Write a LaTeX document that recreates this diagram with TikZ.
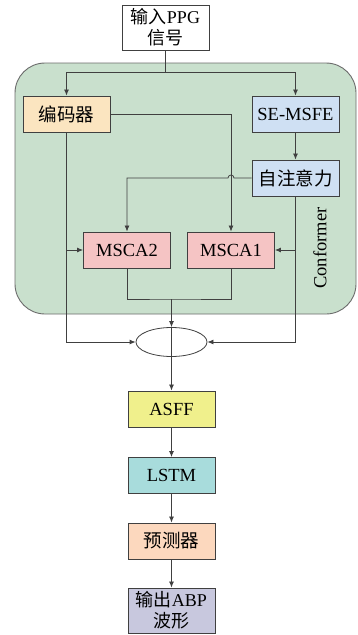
\documentclass[tikz,border=0pt]{standalone}
\usepackage{fontspec}
\setmainfont{Liberation Serif}
\newfontfamily\cjk{Noto Sans CJK SC}
\usepackage{tikz}
\usetikzlibrary{shapes,arrows,arrows.meta}
\usetikzlibrary{calc}
\usetikzlibrary{positioning}

\definecolor{convgreen}{HTML}{C9E0CD}
\definecolor{encfill}{HTML}{FBE5C0}
\definecolor{bluefill}{HTML}{CFE0F3}
\definecolor{mscafill}{HTML}{F5C4C4}
\definecolor{asfffill}{HTML}{F0F08C}
\definecolor{lstmfill}{HTML}{A8DCDC}
\definecolor{predfill}{HTML}{FCD8BE}
\definecolor{outfill}{HTML}{C8C8DE}
\definecolor{edgegray}{HTML}{404040}

\begin{document}
\begin{tikzpicture}[x=1pt, y=-1pt, >={Latex[length=6pt,width=5pt]},
	block_node/.style={rectangle, draw=edgegray, line width=0.9pt, minimum width=87pt, minimum height=36pt, inner sep=1pt, align=center, font=\fontsize{18.5}{20}\selectfont},
	line_arrow/.style={draw=edgegray, line width=0.8pt}]
				\useasboundingbox (0,0) rectangle (358,635);
				% Conformer block behind everything
				\filldraw[fill=convgreen, draw=gray!85!black, line width=0.9pt, rounded corners=30pt] (15,63) rectangle (356,314);
				\node[rotate=90, font=\fontsize{18.5}{20}\selectfont] (conf) at (320,248) {Conformer};
				
				\node[block_node, fill=white, minimum height=45pt, font=\fontsize{18}{21}\selectfont] (inp) at (165.5,27.5) {{\cjk 输入}PPG\\{\cjk 信号}};
				\node[block_node, fill=encfill] (enc) at (66.5,114) {\cjk 编码器};
				\node[block_node, fill=bluefill] (semsfe) at (295.5,114) {SE-MSFE};
				\node[block_node, fill=bluefill] (attn) at (295.5,178) {\cjk 自注意力};
				\node[block_node, fill=mscafill] (msca2) at (127,250) {MSCA2};
				\node[block_node, fill=mscafill] (msca1) at (231,250) {MSCA1};
				\node[ellipse, draw=edgegray, line width=0.8pt, minimum width=71pt, minimum height=29pt, inner sep=0pt] (fuse) at (171.5,342) {};
				\node[block_node, fill=asfffill] (asff) at (171.5,409) {ASFF};
				\node[block_node, fill=lstmfill] (lstm) at (171.5,475.5) {LSTM};
				\node[block_node, fill=predfill] (pred) at (171.5,541) {\cjk 预测器};
				\node[block_node, fill=outfill, minimum height=45pt, font=\fontsize{18}{21}\selectfont] (out) at (171.5,610.5) {{\cjk 输出}ABP\\{\cjk 波形}};
				
				\coordinate (split) at (165.5,72);
				\coordinate (merge) at (171.5,299);
				
				\path[line_arrow] (inp.south) -- (split);
				\path[line_arrow, ->] (split) -| (enc.north);
				\path[line_arrow, ->] (split) -| (semsfe.north);
				\path[line_arrow, ->] (semsfe) -- (attn);
				\path[line_arrow, ->] (enc.east) -| (msca1.north);
				% hop over the encoder line
				\path[line_arrow, ->] (attn.west) -- ($(msca1.north |- attn.west)+(3pt,0)$) arc[start angle=0, end angle=180, radius=3pt] -| (msca2.north);
				\path[line_arrow, ->] (enc.south) |- (fuse.west);
				\path[line_arrow, ->] (enc.south |- msca2.west) -- (msca2.west);
				\path[line_arrow, ->] (attn.south) |- (fuse.east);
				\path[line_arrow, ->] (attn.south |- msca1.east) -- (msca1.east);
				\path[line_arrow] (msca2.south) |- (merge) -| (msca1.south);
				\path[line_arrow, ->] (merge) -- (fuse.north);
				\path[line_arrow, ->] (fuse.north) -- (asff.north);
				\path[line_arrow, ->] (asff) -- (lstm);
				\path[line_arrow, ->] (lstm) -- (pred);
				\path[line_arrow, ->] (pred) -- (out);
			\end{tikzpicture}
\end{document}
